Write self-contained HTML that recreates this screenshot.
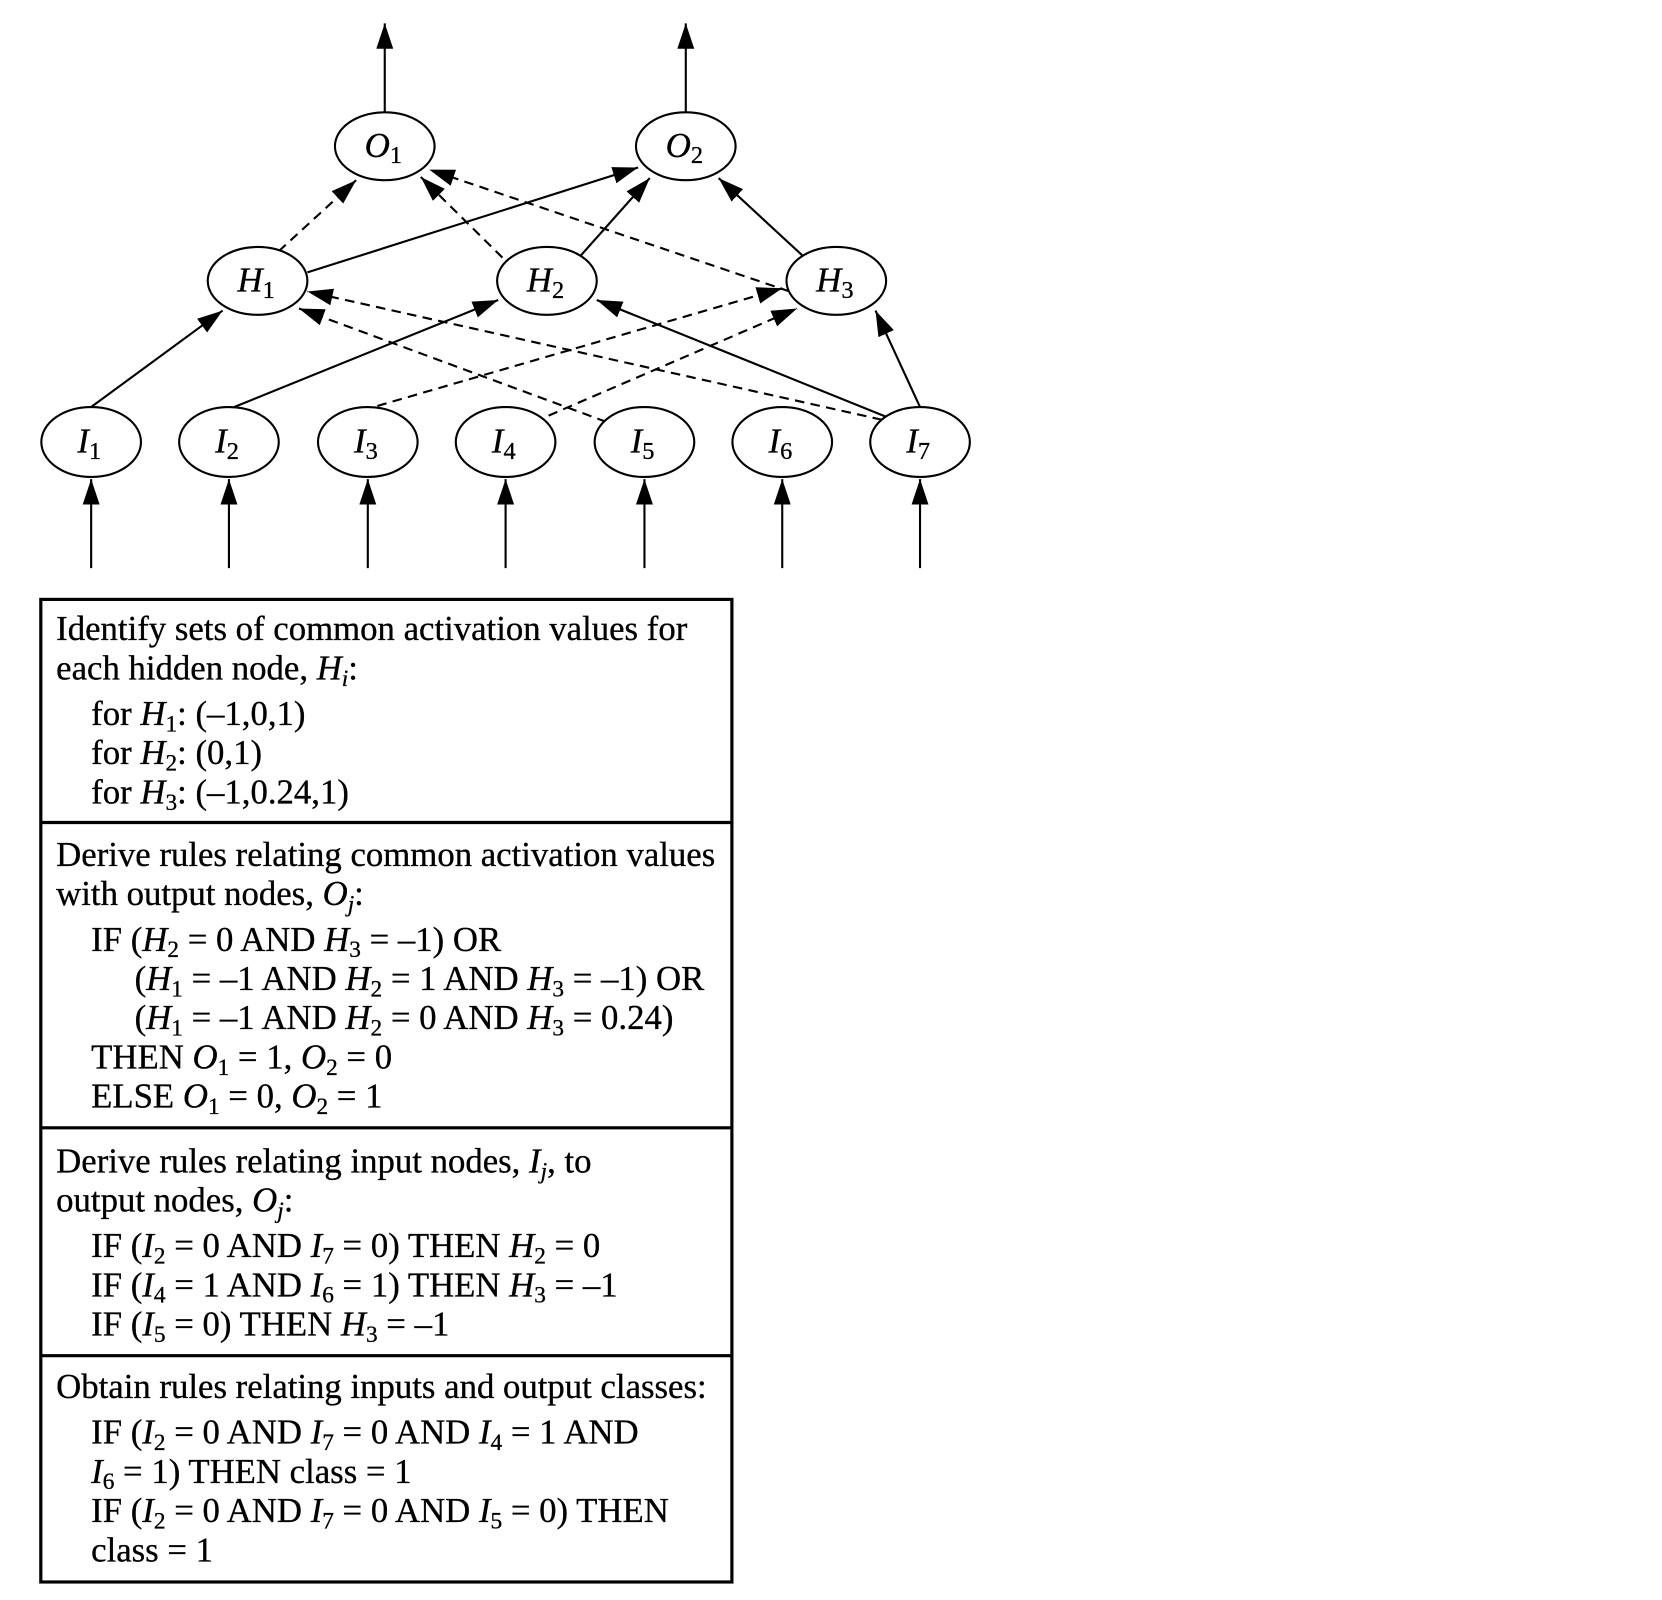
<!DOCTYPE html>
<html><head><meta charset="utf-8"><style>
html,body{margin:0;padding:0;background:#fff;}
svg{display:block;}
text{font-family:"Liberation Serif",serif;fill:#000;}
.it{font-style:italic;}
</style></head><body>
<svg width="1662" height="1600" viewBox="0 0 1568 1509.5" preserveAspectRatio="none" xmlns="http://www.w3.org/2000/svg">
<defs>
<marker id="a" markerUnits="userSpaceOnUse" markerWidth="26" markerHeight="16" refX="24" refY="8" orient="auto">
<path d="M0,0 L24,8 L0,16 Z" fill="#000"/>
</marker>
</defs>
<g stroke="#000" stroke-width="2" fill="none">
<line x1="363" y1="106" x2="363" y2="22" marker-end="url(#a)"/>
<line x1="647" y1="106" x2="647" y2="22" marker-end="url(#a)"/>
<line x1="86" y1="536" x2="86" y2="452" marker-end="url(#a)"/>
<line x1="216" y1="536" x2="216" y2="452" marker-end="url(#a)"/>
<line x1="347" y1="536" x2="347" y2="452" marker-end="url(#a)"/>
<line x1="477" y1="536" x2="477" y2="452" marker-end="url(#a)"/>
<line x1="608" y1="536" x2="608" y2="452" marker-end="url(#a)"/>
<line x1="738" y1="536" x2="738" y2="452" marker-end="url(#a)"/>
<line x1="868" y1="536" x2="868" y2="452" marker-end="url(#a)"/>
<line x1="86" y1="384" x2="210" y2="293" marker-end="url(#a)"/>
<line x1="221" y1="384" x2="470" y2="283" marker-end="url(#a)"/>
<line x1="838" y1="394" x2="563" y2="283" marker-end="url(#a)"/>
<line x1="868" y1="384" x2="826" y2="293" marker-end="url(#a)"/>
<line x1="290" y1="257" x2="602" y2="158" marker-end="url(#a)"/>
<line x1="548" y1="241" x2="613" y2="168" marker-end="url(#a)"/>
<line x1="757" y1="241" x2="678" y2="168" marker-end="url(#a)"/>
</g>
<g stroke="#000" stroke-width="2" fill="none" stroke-dasharray="9,6">
<line x1="263" y1="237" x2="336" y2="170" marker-end="url(#a)"/>
<line x1="474" y1="243" x2="397" y2="167" marker-end="url(#a)"/>
<line x1="745" y1="275" x2="405" y2="160" marker-end="url(#a)"/>
<line x1="356" y1="383" x2="738" y2="272" marker-end="url(#a)"/>
<line x1="490" y1="404" x2="752" y2="291" marker-end="url(#a)"/>
<line x1="572" y1="398" x2="282" y2="291" marker-end="url(#a)"/>
<line x1="832" y1="396" x2="290" y2="275" marker-end="url(#a)"/>
</g>
<g stroke="#000" stroke-width="2" fill="#fff">
<ellipse cx="363" cy="138" rx="47" ry="32"/>
<ellipse cx="647" cy="138" rx="47" ry="32"/>
<ellipse cx="243" cy="265" rx="47" ry="32"/>
<ellipse cx="516" cy="265" rx="47" ry="32"/>
<ellipse cx="789" cy="265" rx="47" ry="32"/>
<ellipse cx="86" cy="417" rx="47" ry="33"/>
<ellipse cx="216" cy="417" rx="47" ry="33"/>
<ellipse cx="347" cy="417" rx="47" ry="33"/>
<ellipse cx="477" cy="417" rx="47" ry="33"/>
<ellipse cx="608" cy="417" rx="47" ry="33"/>
<ellipse cx="738" cy="417" rx="47" ry="33"/>
<ellipse cx="868" cy="417" rx="47" ry="33"/>
</g>
<g font-size="33" stroke="#000" stroke-width="0.3">
<text x="344" y="148"><tspan class="it">O</tspan><tspan font-size="23" dy="6">1</tspan></text>
<text x="628" y="148"><tspan class="it">O</tspan><tspan font-size="23" dy="6">2</tspan></text>
<text x="224" y="275"><tspan class="it">H</tspan><tspan font-size="23" dy="6">1</tspan></text>
<text x="497" y="275"><tspan class="it">H</tspan><tspan font-size="23" dy="6">2</tspan></text>
<text x="770" y="275"><tspan class="it">H</tspan><tspan font-size="23" dy="6">3</tspan></text>
<text x="73" y="427"><tspan class="it">I</tspan><tspan font-size="23" dy="6">1</tspan></text>
<text x="203" y="427"><tspan class="it">I</tspan><tspan font-size="23" dy="6">2</tspan></text>
<text x="334" y="427"><tspan class="it">I</tspan><tspan font-size="23" dy="6">3</tspan></text>
<text x="464" y="427"><tspan class="it">I</tspan><tspan font-size="23" dy="6">4</tspan></text>
<text x="595" y="427"><tspan class="it">I</tspan><tspan font-size="23" dy="6">5</tspan></text>
<text x="725" y="427"><tspan class="it">I</tspan><tspan font-size="23" dy="6">6</tspan></text>
<text x="855" y="427"><tspan class="it">I</tspan><tspan font-size="23" dy="6">7</tspan></text>
</g>
<g stroke="#000" stroke-width="3" fill="none">
<rect x="38.5" y="565.5" width="652" height="927"/>
<line x1="38.5" y1="776" x2="690.5" y2="776"/>
<line x1="38.5" y1="1064" x2="690.5" y2="1064"/>
<line x1="38.5" y1="1279" x2="690.5" y2="1279"/>
</g>
<g font-size="32.8" stroke="#000" stroke-width="0.3">
<text x="53" y="604">Identify sets of common activation values for</text>
<text x="53" y="641">each hidden node, <tspan class="it">H</tspan><tspan class="it" font-size="22" dy="6">i</tspan><tspan dy="-6">:</tspan></text>
<text x="86" y="684">for <tspan class="it">H</tspan><tspan font-size="22" dy="6">1</tspan><tspan dy="-6">: (–1,0,1)</tspan></text>
<text x="86" y="721">for <tspan class="it">H</tspan><tspan font-size="22" dy="6">2</tspan><tspan dy="-6">: (0,1)</tspan></text>
<text x="86" y="758">for <tspan class="it">H</tspan><tspan font-size="22" dy="6">3</tspan><tspan dy="-6">: (–1,0.24,1)</tspan></text>

<text x="53" y="817">Derive rules relating common activation values</text>
<text x="53" y="854">with output nodes, <tspan class="it">O</tspan><tspan class="it" font-size="22" dy="6">j</tspan><tspan dy="-6">:</tspan></text>
<text x="86" y="897">IF (<tspan class="it">H</tspan><tspan font-size="22" dy="6">2</tspan><tspan dy="-6"> = 0 AND </tspan><tspan class="it">H</tspan><tspan font-size="22" dy="6">3</tspan><tspan dy="-6"> = –1) OR</tspan></text>
<text x="127" y="934">(<tspan class="it">H</tspan><tspan font-size="22" dy="6">1</tspan><tspan dy="-6"> = –1 AND </tspan><tspan class="it">H</tspan><tspan font-size="22" dy="6">2</tspan><tspan dy="-6"> = 1 AND </tspan><tspan class="it">H</tspan><tspan font-size="22" dy="6">3</tspan><tspan dy="-6"> = –1) OR</tspan></text>
<text x="127" y="971">(<tspan class="it">H</tspan><tspan font-size="22" dy="6">1</tspan><tspan dy="-6"> = –1 AND </tspan><tspan class="it">H</tspan><tspan font-size="22" dy="6">2</tspan><tspan dy="-6"> = 0 AND </tspan><tspan class="it">H</tspan><tspan font-size="22" dy="6">3</tspan><tspan dy="-6"> = 0.24)</tspan></text>
<text x="86" y="1008">THEN <tspan class="it">O</tspan><tspan font-size="22" dy="6">1</tspan><tspan dy="-6"> = 1, </tspan><tspan class="it">O</tspan><tspan font-size="22" dy="6">2</tspan><tspan dy="-6"> = 0</tspan></text>
<text x="86" y="1045">ELSE <tspan class="it">O</tspan><tspan font-size="22" dy="6">1</tspan><tspan dy="-6"> = 0, </tspan><tspan class="it">O</tspan><tspan font-size="22" dy="6">2</tspan><tspan dy="-6"> = 1</tspan></text>

<text x="53" y="1106">Derive rules relating input nodes, <tspan class="it">I</tspan><tspan class="it" font-size="22" dy="6">j</tspan><tspan dy="-6">, to</tspan></text>
<text x="53" y="1143">output nodes, <tspan class="it">O</tspan><tspan class="it" font-size="22" dy="6">j</tspan><tspan dy="-6">:</tspan></text>
<text x="86" y="1186">IF (<tspan class="it">I</tspan><tspan font-size="22" dy="6">2</tspan><tspan dy="-6"> = 0 AND </tspan><tspan class="it">I</tspan><tspan font-size="22" dy="6">7</tspan><tspan dy="-6"> = 0) THEN </tspan><tspan class="it">H</tspan><tspan font-size="22" dy="6">2</tspan><tspan dy="-6"> = 0</tspan></text>
<text x="86" y="1223">IF (<tspan class="it">I</tspan><tspan font-size="22" dy="6">4</tspan><tspan dy="-6"> = 1 AND </tspan><tspan class="it">I</tspan><tspan font-size="22" dy="6">6</tspan><tspan dy="-6"> = 1) THEN </tspan><tspan class="it">H</tspan><tspan font-size="22" dy="6">3</tspan><tspan dy="-6"> = –1</tspan></text>
<text x="86" y="1260">IF (<tspan class="it">I</tspan><tspan font-size="22" dy="6">5</tspan><tspan dy="-6"> = 0) THEN </tspan><tspan class="it">H</tspan><tspan font-size="22" dy="6">3</tspan><tspan dy="-6"> = –1</tspan></text>

<text x="53" y="1319">Obtain rules relating inputs and output classes:</text>
<text x="86" y="1362">IF (<tspan class="it">I</tspan><tspan font-size="22" dy="6">2</tspan><tspan dy="-6"> = 0 AND </tspan><tspan class="it">I</tspan><tspan font-size="22" dy="6">7</tspan><tspan dy="-6"> = 0 AND </tspan><tspan class="it">I</tspan><tspan font-size="22" dy="6">4</tspan><tspan dy="-6"> = 1 AND</tspan></text>
<text x="86" y="1399"><tspan class="it">I</tspan><tspan font-size="22" dy="6">6</tspan><tspan dy="-6"> = 1) THEN class = 1</tspan></text>
<text x="86" y="1436">IF (<tspan class="it">I</tspan><tspan font-size="22" dy="6">2</tspan><tspan dy="-6"> = 0 AND </tspan><tspan class="it">I</tspan><tspan font-size="22" dy="6">7</tspan><tspan dy="-6"> = 0 AND </tspan><tspan class="it">I</tspan><tspan font-size="22" dy="6">5</tspan><tspan dy="-6"> = 0) THEN</tspan></text>
<text x="86" y="1473">class = 1</text>
</g>
</svg>
</body></html>
